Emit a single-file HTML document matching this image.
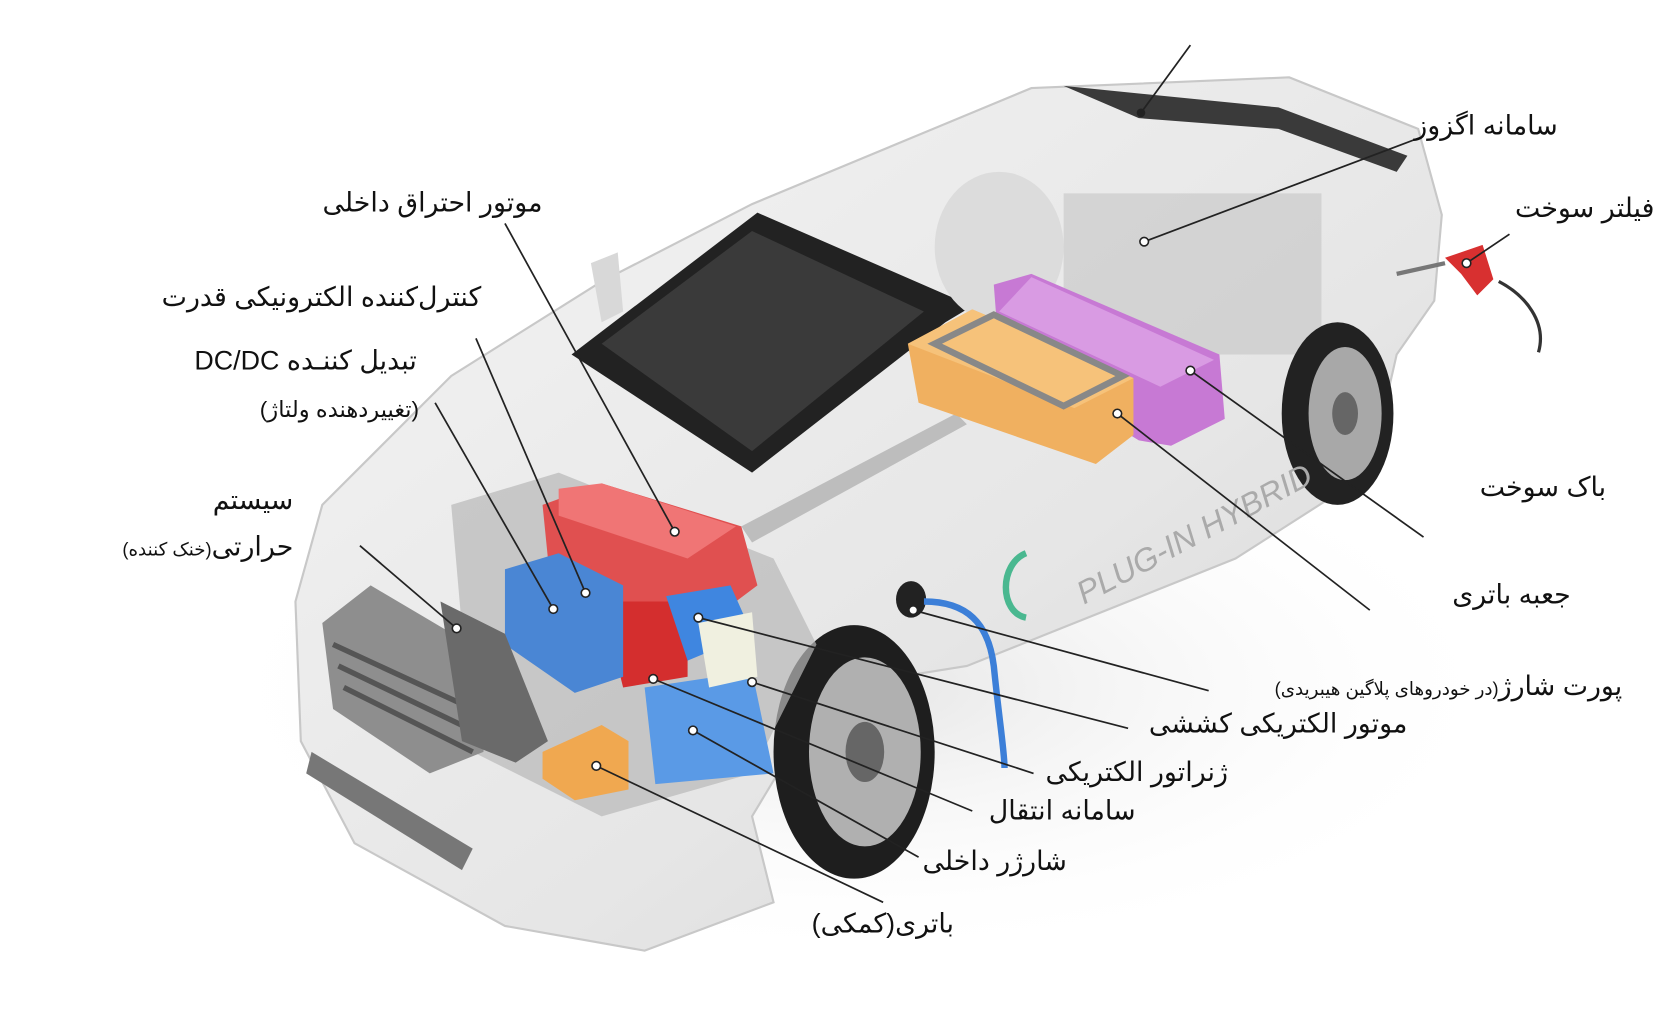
<!DOCTYPE html>
<html><head><meta charset="utf-8"><style>
html,body{margin:0;padding:0;background:#fff;width:1676px;height:1014px;overflow:hidden}
svg{display:block}
text{font-family:"Liberation Sans","DejaVu Sans",sans-serif;fill:#111;direction:rtl}
</style></head><body>
<svg width="1676" height="1014" viewBox="0 0 1560 944" preserveAspectRatio="none" xmlns="http://www.w3.org/2000/svg">
<defs>
<linearGradient id="body" x1="0" y1="0" x2="1" y2="1">
<stop offset="0" stop-color="#f4f4f4"/><stop offset="0.6" stop-color="#e6e6e6"/><stop offset="1" stop-color="#d4d4d4"/></linearGradient>
<radialGradient id="shadow" cx="0.5" cy="0.5" r="0.5"><stop offset="0" stop-color="#ccc"/><stop offset="1" stop-color="#fff" stop-opacity="0"/></radialGradient>
</defs>
<ellipse cx="800" cy="640" rx="620" ry="260" fill="url(#shadow)" opacity="0.5"/>
<!-- car body -->
<path d="M275,560 L300,470 L420,350 L560,262 L700,190 L960,82 L1200,72 L1320,120 L1342,200 L1335,280 L1300,330 L1275,440 L1150,520 L900,620 L850,628 L760,660 L700,760 L720,840 L600,885 L470,862 L330,785 L280,690 Z" fill="url(#body)" stroke="#c8c8c8" stroke-width="2"/>
<!-- rear deck shadow band -->
<path d="M990,80 L1190,100 L1310,145 L1300,160 L1190,120 L1060,110 Z" fill="#3a3a3a"/>
<!-- windshield -->
<path d="M532,330 L705,198 L905,285 L880,300 L700,440 Z" fill="#222"/>
<path d="M560,320 L700,215 L860,290 L700,420 Z" fill="#3a3a3a"/>
<!-- mirror -->
<path d="M550,245 L575,235 L580,290 L560,300 Z" fill="#d8d8d8"/>
<!-- rear wheel arch interior -->
<ellipse cx="930" cy="230" rx="60" ry="70" fill="#dcdcdc"/>
<path d="M990,180 L1230,180 L1230,330 L990,330 Z" fill="#c4c4c4" opacity="0.6"/>
<!-- rear wheel -->
<ellipse cx="1245" cy="385" rx="52" ry="85" fill="#222"/>
<ellipse cx="1252" cy="385" rx="34" ry="62" fill="#a8a8a8"/>
<ellipse cx="1252" cy="385" rx="12" ry="20" fill="#666"/>
<!-- front wheel -->
<ellipse cx="795" cy="700" rx="75" ry="118" fill="#1e1e1e"/>
<ellipse cx="805" cy="700" rx="52" ry="88" fill="#b0b0b0"/>
<ellipse cx="805" cy="700" rx="18" ry="28" fill="#666"/>
<!-- driveshaft -->
<path d="M690,490 L890,385 L900,395 L700,505 Z" fill="#bdbdbd"/>
<!-- purple tank -->
<path d="M925,265 L960,255 L1135,330 L1140,390 L1090,415 L1060,410 L930,330 Z" fill="#c779d4"/>
<path d="M960,258 L1130,335 L1080,360 L930,290 Z" fill="#d99be3"/>
<!-- orange battery box -->
<path d="M845,320 L905,288 L1055,352 L1055,405 L1020,432 L855,375 Z" fill="#f0b060"/>
<path d="M845,320 L905,288 L1055,352 L1000,380 Z" fill="#f6c27a"/>
<path d="M870,320 L925,293 L1045,350 L990,378 Z" fill="none" stroke="#888" stroke-width="6"/>
<!-- engine bay -->
<path d="M420,470 L520,440 L720,520 L760,600 L700,720 L560,760 L440,700 Z" fill="#b8b8b8" opacity="0.7"/>
<path d="M505,470 L560,450 L690,490 L705,545 L625,605 L540,560 L510,520 Z" fill="#e05050"/>
<path d="M520,455 L560,450 L685,490 L640,520 L520,480 Z" fill="#f07575"/>
<path d="M560,560 L640,560 L640,630 L580,640 Z" fill="#d42e2e"/>
<!-- blue blocks -->
<path d="M470,530 L520,515 L580,545 L580,630 L535,645 L470,600 Z" fill="#4a86d4"/>
<path d="M620,555 L680,545 L700,590 L640,615 Z" fill="#3f86e0"/>
<path d="M600,640 L700,625 L720,720 L610,730 Z" fill="#5a9ae6"/>
<path d="M650,580 L700,570 L705,630 L660,640 Z" fill="#f0f0e0"/>
<!-- aux battery -->
<path d="M505,700 L560,675 L585,690 L585,735 L535,745 L505,725 Z" fill="#f0a850"/>
<!-- grille -->
<path d="M300,580 L345,545 L455,610 L450,700 L400,720 L310,660 Z" fill="#8e8e8e"/>
<path d="M310,600 L440,660 M315,620 L440,680 M320,640 L440,700" stroke="#555" stroke-width="5"/>
<path d="M410,560 L470,590 L510,690 L480,710 L430,690 Z" fill="#6a6a6a"/>
<path d="M290,700 L440,790 L430,810 L285,720 Z" fill="#777"/>
<!-- charge port -->
<ellipse cx="848" cy="558" rx="14" ry="17" fill="#222"/>
<path d="M860,560 C900,560 920,580 925,620 C930,670 935,700 935,715" stroke="#3c7fd8" stroke-width="6" fill="none"/>
<!-- logo circle -->
<path d="M955,515 C930,525 930,570 955,575" stroke="#4ab890" stroke-width="6" fill="none"/>
<text x="1100" y="520" font-size="30" fill="#999" style="fill:#aaa" transform="rotate(-28 1080 480)" direction="ltr" text-anchor="middle" font-style="italic">PLUG-IN HYBRID</text>
<!-- fuel nozzle -->
<path d="M1345,240 L1380,228 L1390,260 L1375,275 L1360,255 Z" fill="#d83030"/>
<path d="M1395,262 C1420,275 1440,300 1432,328" stroke="#333" stroke-width="3" fill="none"/>
<path d="M1300,255 L1345,245" stroke="#777" stroke-width="4"/>
<!-- leader lines -->
<g stroke="#222" stroke-width="1.6" fill="none">
<line x1="1108" y1="42" x2="1062" y2="105"/>
<line x1="1322" y1="128" x2="1065" y2="225"/>
<line x1="1405" y1="218" x2="1365" y2="245"/>
<line x1="470" y1="208" x2="628" y2="495"/>
<line x1="443" y1="315" x2="545" y2="552"/>
<line x1="405" y1="375" x2="515" y2="567"/>
<line x1="335" y1="508" x2="425" y2="585"/>
<line x1="1325" y1="500" x2="1108" y2="345"/>
<line x1="1275" y1="568" x2="1040" y2="385"/>
<line x1="1125" y1="643" x2="850" y2="568"/>
<line x1="1050" y1="678" x2="650" y2="575"/>
<line x1="962" y1="720" x2="700" y2="635"/>
<line x1="905" y1="755" x2="608" y2="632"/>
<line x1="855" y1="798" x2="645" y2="680"/>
<line x1="822" y1="840" x2="555" y2="713"/>
</g>
<g fill="#fff" stroke="#222" stroke-width="1.5">
<circle cx="1065" cy="225" r="4"/><circle cx="628" cy="495" r="4"/><circle cx="545" cy="552" r="4"/>
<circle cx="515" cy="567" r="4"/><circle cx="425" cy="585" r="4"/><circle cx="1108" cy="345" r="4"/>
<circle cx="1040" cy="385" r="4"/><circle cx="850" cy="568" r="4"/><circle cx="650" cy="575" r="4"/>
<circle cx="700" cy="635" r="4"/><circle cx="608" cy="632" r="4"/><circle cx="645" cy="680" r="4"/>
<circle cx="555" cy="713" r="4"/><circle cx="1365" cy="245" r="4"/>
</g>
<circle cx="1062" cy="105" r="4" fill="#222"/>
<!-- labels -->
<g text-anchor="start">
<text x="1450" y="125" font-size="25">سامانه اگزوز</text>
<text x="1540" y="202" font-size="25">فیلتر سوخت</text>
<text x="505" y="197" font-size="25">موتور احتراق داخلی</text>
<text x="448" y="285" font-size="25">کنترل‌کننده الکترونیکی قدرت</text>
<text x="388" y="344" font-size="25">تبدیل کننـده DC/DC</text>
<text x="390" y="388" font-size="21">(تغییردهنده ولتاژ)</text>
<text x="273" y="474" font-size="25">سیستم</text>
<text x="273" y="517" font-size="25">حرارتی<tspan font-size="17">(خنک کننده)</tspan></text>
<text x="1495" y="462" font-size="25">باک سوخت</text>
<text x="1462" y="562" font-size="25">جعبه باتری</text>
<text x="1510" y="647" font-size="25">پورت شارژ<tspan font-size="17">(در خودروهای پلاگین هیبریدی)</tspan></text>
<text x="1310" y="682" font-size="25">موتور الکتریکی کششی</text>
<text x="1143" y="727" font-size="25">ژنراتور الکتریکی</text>
<text x="1057" y="763" font-size="25">سامانه انتقال</text>
<text x="993" y="810" font-size="25">شارژر داخلی</text>
<text x="888" y="868" font-size="25">باتری(کمکی)</text>
</g>
</svg>
</body></html>
